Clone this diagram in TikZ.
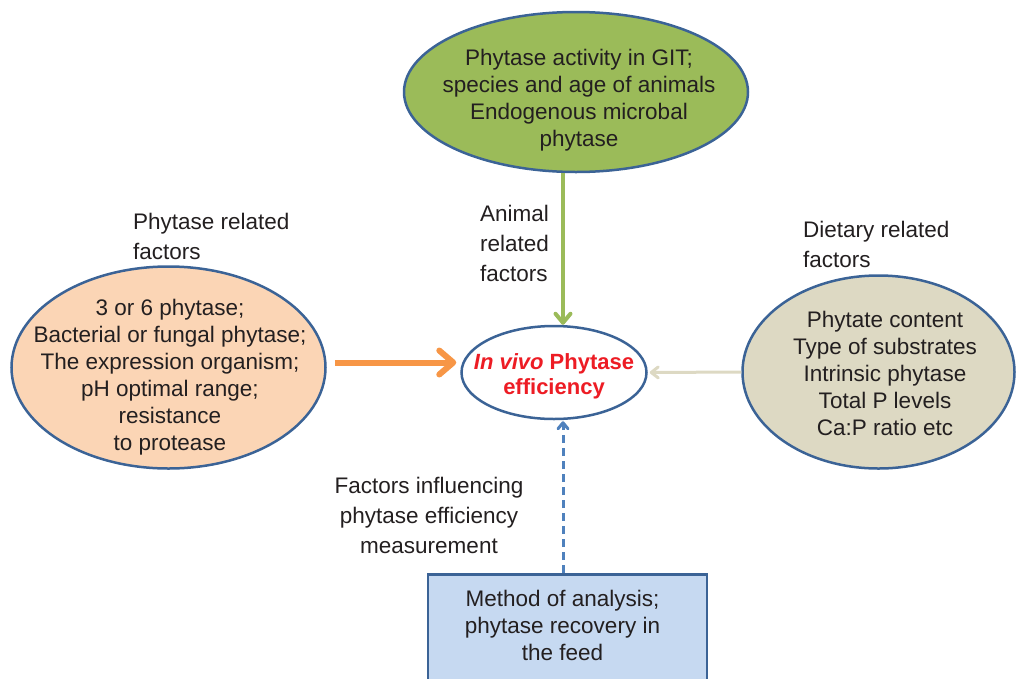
\documentclass[tikz,border=0pt]{standalone}
\usepackage{fontspec}
\setmainfont{Liberation Sans}
\usetikzlibrary{shapes.geometric,arrows.meta}
\definecolor{rim}{HTML}{3B6396}
\definecolor{ink}{HTML}{231F20}
\definecolor{leaf}{HTML}{9BBB59}
\definecolor{peach}{HTML}{FBD5B5}
\definecolor{tan}{HTML}{DDD9C3}
\definecolor{sky}{HTML}{C6D9F1}
\definecolor{tangerine}{HTML}{F79646}
\definecolor{steel}{HTML}{4F81BD}
\definecolor{alert}{HTML}{ED1C24}
\def\bodyfont{\fontsize{22.5}{27}\selectfont}
\def\labelfont{\fontsize{22.5}{30}\selectfont}

\begin{document}
\begin{tikzpicture}[x=1pt, y=-1pt,
	ell/.style={ellipse, draw=rim, line width=2.5pt, inner sep=0pt},
	txt/.style={align=center, text=ink, font=\bodyfont, inner sep=0pt},
	lbl/.style={align=left, text=ink, font=\labelfont, inner sep=0pt, anchor=west}]
			%%%%% START %%%%%
			\clip (0, 0) rectangle (1017, 678);
			
			\node[ell, fill=leaf, minimum width=344pt, minimum height=160pt] (anim) at (576, 92) {};
			\node[txt] (animTxt) at (579, 100.5) {Phytase activity in GIT;\\species and age of animals\\Endogenous microbal\\phytase};
			
			\node[ell, fill=peach, minimum width=314pt, minimum height=202pt] (phy) at (168.5, 367.5) {};
			\node[txt] (phyTxt) at (170, 377) {3 or 6 phytase;\\Bacterial or fungal phytase;\\The expression organism;\\pH optimal range;\\resistance\\to protease};
			
			\node[ell, fill=tan, minimum width=272pt, minimum height=193pt] (diet) at (878.5, 372) {};
			\node[txt] (dietTxt) at (885, 373.5) {Phytate content\\Type of substrates\\Intrinsic phytase\\Total P levels\\Ca:P ratio etc};
			
			\node[ell, fill=white, minimum width=185pt, minimum height=93pt] (eff) at (554, 372.5) {};
			\node[txt, text=alert, font=\fontsize{22}{27}\selectfont\bfseries, text depth=0pt] (effTxt) at (554, 374.5) {\textit{In vivo} Phytase\\[-2pt]efficiency};
			
			\node[draw=rim, fill=sky, line width=2.5pt, minimum width=279pt, minimum height=130pt, anchor=north] (meth) at (567.5, 573) {};
			\node[txt] (methTxt) at (562.5, 625.5) {Method of analysis;\\phytase recovery in\\the feed};
			
			\node[lbl] (phyLbl) at (133, 236) {Phytase related\\factors};
			\node[lbl] (animLbl) at (480, 243.5) {Animal\\related\\factors};
			\node[lbl] (dietLbl) at (803, 244.5) {Dietary related\\factors};
			\node[txt, font=\labelfont] (methLbl) at (429, 515) {Factors influencing\\phytase efficiency\\measurement};
			
			\draw[line width=6pt, color=tangerine, -{Straight Barb[length=14pt, width=24pt, round]}] ([xshift=8pt, yshift=5pt]phy.east) -- ([xshift=-4pt, yshift=10pt]eff.west);
			\draw[line width=4pt, color=leaf, -{Straight Barb[length=9pt, width=15pt, round]}] ([xshift=-13pt]anim.south) -- ([xshift=9pt]eff.north);
			\draw[line width=3pt, color=tan, -{Straight Barb[length=7pt, width=11pt, round]}, shorten >=2pt] (diet.west) -- (eff.east);
			\draw[line width=3pt, color=steel, dash pattern=on 8pt off 5pt, -{Straight Barb[length=6pt, width=10pt, round]}, shorten >=1pt] ([xshift=-4.5pt]meth.north) -- ([xshift=9pt]eff.south);
			%%%%% END %%%%%
\end{tikzpicture}
\end{document}
